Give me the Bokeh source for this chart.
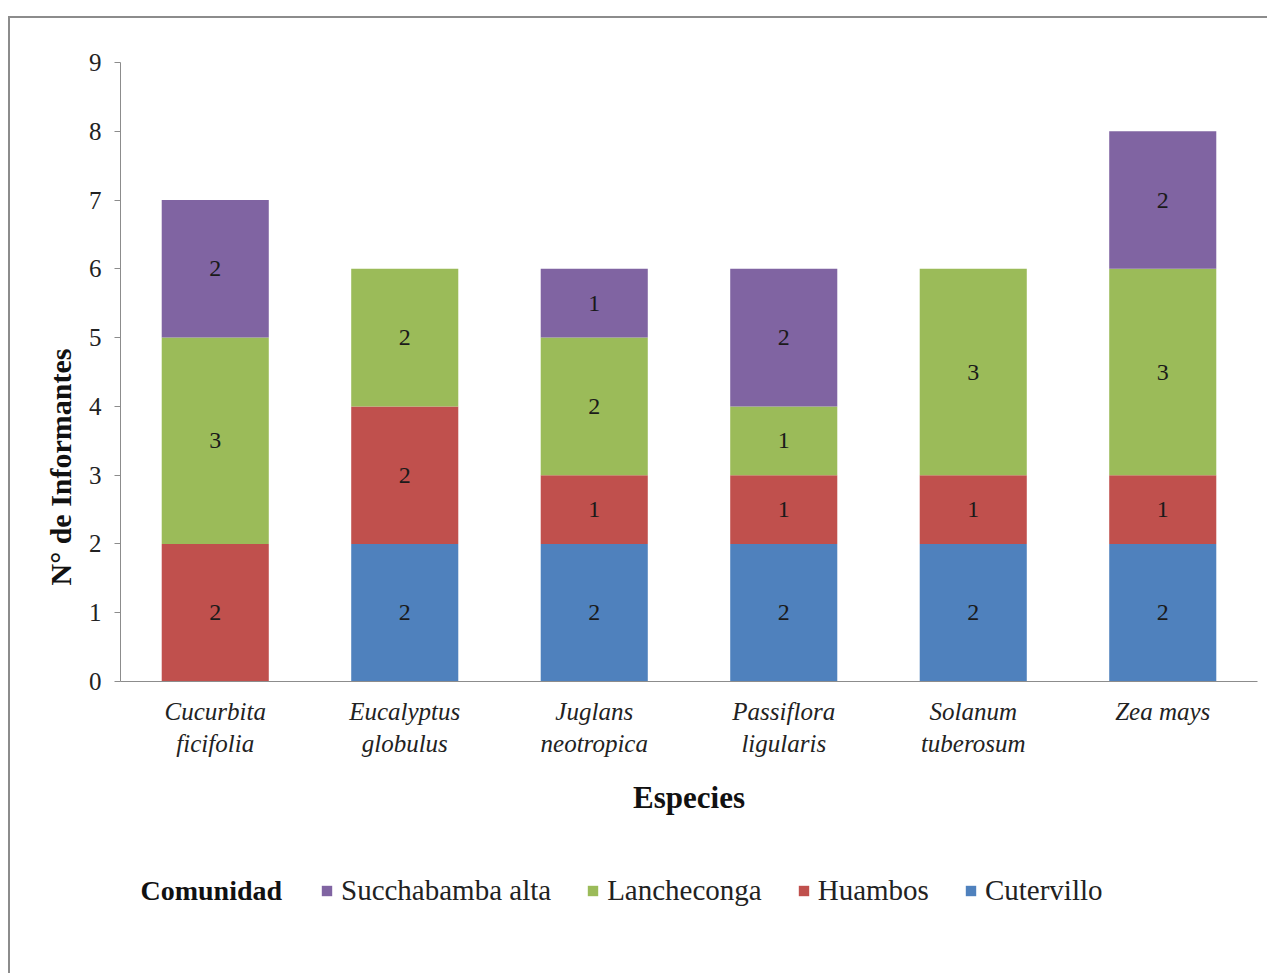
from bokeh.plotting import figure
from bokeh.layouts import column
from bokeh.models import (FactorRange, Legend, LegendItem, Label, Title,
                          ColumnDataSource, FixedTicker)
from bokeh.core.properties import value
from bokeh.embed import file_html
from bokeh.resources import INLINE

# ---------------- data ----------------
species = ["Cucurbita\nficifolia", "Eucalyptus\nglobulus", "Juglans\nneotropica",
           "Passiflora\nligularis", "Solanum\ntuberosum", "Zea mays"]
communities = ["Cutervillo", "Huambos", "Lancheconga", "Succhabamba alta"]
cutervillo = [0, 2, 2, 2, 2, 2]
huambos = [2, 2, 1, 1, 1, 1]
lancheconga = [3, 2, 2, 1, 3, 3]
succhabamba = [2, 0, 1, 2, 0, 2]
colors = ["#4F81BD", "#C0504D", "#9BBB59", "#8064A2"]
y_ticks = [0, 1, 2, 3, 4, 5, 6, 7, 8, 9]

series = [cutervillo, huambos, lancheconga, succhabamba]
SERIF = "Liberation Serif"

W1, H1 = 1257, 832
p = figure(width=W1, height=H1, x_range=FactorRange(*species), y_range=(0, 9),
           output_backend="svg", toolbar_location=None,
           min_border_left=110, min_border_right=10, min_border_top=44,
           min_border_bottom=169)
p.outline_line_color = None
p.xgrid.grid_line_color = None
p.ygrid.grid_line_color = None
p.background_fill_color = "white"
p.border_fill_color = "white"

data = {"species": species}
for name, vals in zip(communities, series):
    data[name] = vals
src = ColumnDataSource(data)
p.vbar_stack(communities, x="species", width=0.565, source=src,
             color=colors, line_color=None)

# value labels at segment centers
lx, ly, lt = [], [], []
for si, vals in enumerate(series):
    for ci, v in enumerate(vals):
        if v > 0:
            base = sum(series[k][ci] for k in range(si))
            lx.append(species[ci])
            ly.append(base + v / 2)
            lt.append(str(v))
p.text(x=lx, y=ly, text=lt, text_align="center", text_baseline="middle",
       text_font=value(SERIF), text_font_size="24px", text_color="#1a1a1a")

# axes
p.yaxis.ticker = FixedTicker(ticks=y_ticks)
p.yaxis.minor_tick_line_color = None
p.yaxis.major_tick_out = 6
p.yaxis.major_tick_in = 0
p.yaxis.axis_line_color = "#8c8c8c"
p.yaxis.major_tick_line_color = "#8c8c8c"
p.yaxis.major_label_text_font = SERIF
p.yaxis.major_label_text_font_size = "25px"
p.yaxis.major_label_text_color = "#222222"
p.yaxis.major_label_standoff = 13

# y-axis title, placed lower along the axis as in the reference
p.add_layout(Title(text="N° de Informantes", text_font=SERIF,
                   text_font_style="bold", text_font_size="30px",
                   text_color="#111111", align="left", offset=96,
                   standoff=18), "left")

p.xaxis.axis_line_color = "#8c8c8c"
p.xaxis.major_tick_line_color = None
p.xaxis.minor_tick_line_color = None
p.xaxis.major_label_text_font = SERIF
p.xaxis.major_label_text_font_style = "italic"
p.xaxis.major_label_text_font_size = "25px"
p.xaxis.major_label_text_color = "#222222"
p.xaxis.major_label_standoff = 10
p.xaxis.axis_label = "Especies"
p.xaxis.axis_label_text_font = SERIF
p.xaxis.axis_label_text_font_style = "bold"
p.xaxis.axis_label_text_font_size = "31px"
p.xaxis.axis_label_text_color = "#111111"
p.xaxis.axis_label_standoff = 20

# ---------------- legend strip ----------------
# (its frame is aligned with the chart's frame by the column layout)
W2, H2 = 1257, 123
FW = W2 - 110 - 10
q = figure(width=W2, height=H2, x_range=(0, FW), y_range=(0, H2),
           output_backend="svg", toolbar_location=None,
           x_axis_location=None, y_axis_location=None,
           min_border_left=110, min_border_right=10, min_border_top=0,
           min_border_bottom=0)
q.xgrid.grid_line_color = None
q.ygrid.grid_line_color = None
q.outline_line_color = None
q.background_fill_color = "white"
q.border_fill_color = "white"

# off-canvas stand-ins that give the legend its colour swatches
dummies = [q.vbar(x=[-50], top=[-50], bottom=[-60], width=1, color=c, line_color=None)
           for c in colors]
items = [LegendItem(label=communities[i], renderers=[dummies[i]]) for i in [3, 2, 1, 0]]
legend = Legend(items=items, orientation="horizontal", location=(200, 66),
                label_text_font=SERIF, label_text_font_size="29px",
                label_text_color="#222222", glyph_width=13, glyph_height=13,
                spacing=35, label_standoff=8, padding=0, margin=0,
                border_line_color=None, background_fill_alpha=0)
q.add_layout(legend, "center")

q.add_layout(Label(x=20, y=83, text="Comunidad", text_font=SERIF,
                   text_font_style="bold", text_font_size="28px",
                   text_color="#111111", text_baseline="middle"))

layout = column(p, q, spacing=0,
                styles={"margin-left": "8px", "margin-top": "16px",
                        "border-left": "2px solid #8c8c8c",
                        "border-top": "2px solid #8c8c8c"})

open("out.html", "w").write(file_html(layout, INLINE))
